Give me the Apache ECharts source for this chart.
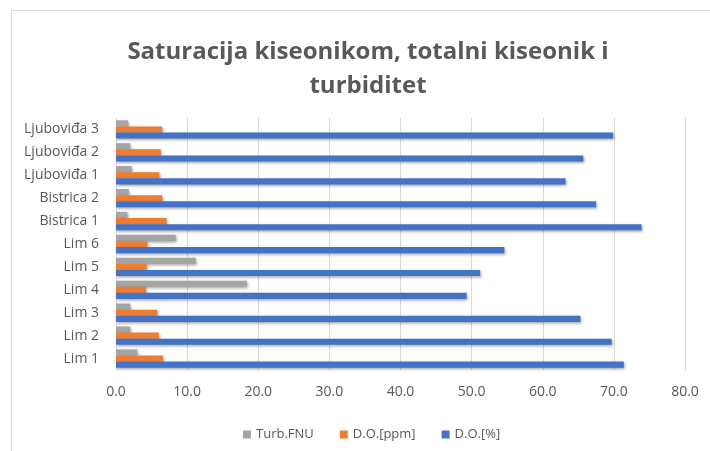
<!DOCTYPE html>
<html>
<head>
<meta charset="utf-8">
<script src="https://cdn.jsdelivr.net/npm/echarts@6/dist/echarts.min.js"></script>
<style>
  html, body { margin: 0; padding: 0; background: #fff; }
  #chart { width: 710px; height: 451px; }
</style>
</head>
<body>
<div id="chart"></div>
<script>
// Sampling sites, bottom to top on the category axis
const sites = ['Lim 1', 'Lim 2', 'Lim 3', 'Lim 4', 'Lim 5', 'Lim 6',
  'Bistrica 1', 'Bistrica 2', 'Ljuboviđa 1', 'Ljuboviđa 2', 'Ljuboviđa 3'];

// Dissolved oxygen saturation [%]
const doPercent = [71.4, 69.7, 65.3, 49.3, 51.2, 54.6, 73.9, 67.5, 63.2, 65.7, 69.9];
// Dissolved oxygen [ppm]
const doPpm = [6.6, 6.0, 5.8, 4.2, 4.3, 4.4, 7.1, 6.5, 6.1, 6.3, 6.5];
// Turbidity [FNU]
const turbFnu = [3.0, 2.0, 2.0, 18.4, 11.2, 8.4, 1.6, 1.8, 2.2, 2.0, 1.7];

const xTicks = { min: 0, max: 80, interval: 10 };

const textColor = '#595959';
const fontFamily = '"Open Sans", Lato, sans-serif';

const barShadow = {
  shadowColor: 'rgba(0,0,0,0.35)',
  shadowBlur: 3,
  shadowOffsetX: 1,
  shadowOffsetY: 1.5
};

const chart = echarts.init(document.getElementById('chart'), null, { renderer: 'canvas' });

chart.setOption({
  animation: false,
  backgroundColor: '#ffffff',
  textStyle: { fontFamily: fontFamily },
  graphic: [{
    type: 'rect',
    shape: { x: 11.5, y: 10.5, width: 720, height: 470 },
    style: { fill: 'none', stroke: '#d9d9d9', lineWidth: 1 },
    silent: true,
    z: -10
  }],
  title: {
    text: 'Saturacija kiseonikom, totalni kiseonik i\nturbiditet',
    left: 363,
    top: 30,
    textAlign: 'center',
    textStyle: {
      color: textColor,
      fontSize: 24,
      fontWeight: 'bold',
      fontFamily: fontFamily,
      lineHeight: 34
    }
  },
  legend: {
    data: ['Turb.FNU', 'D.O.[ppm]', 'D.O.[%]'],
    left: 238,
    top: 423,
    itemWidth: 8,
    itemHeight: 8,
    itemGap: 26,
    icon: 'rect',
    textStyle: { color: textColor, fontSize: 13, fontFamily: fontFamily }
  },
  grid: {
    left: 116,
    right: 25,
    top: 118,
    bottom: 81,
    containLabel: false
  },
  xAxis: {
    type: 'value',
    min: xTicks.min,
    max: xTicks.max,
    interval: xTicks.interval,
    axisLine: { show: false },
    axisTick: { show: false },
    splitLine: { lineStyle: { color: '#d9d9d9', width: 1 } },
    axisLabel: {
      color: textColor,
      fontSize: 14,
      margin: 15,
      formatter: v => v.toFixed(1)
    }
  },
  yAxis: {
    type: 'category',
    data: sites,
    axisLine: { show: false },
    axisTick: { show: false },
    axisLabel: { color: textColor, fontSize: 14, margin: 17 }
  },
  series: [
    {
      name: 'Turb.FNU',
      type: 'bar',
      data: turbFnu,
      barGap: '0%',
      barCategoryGap: '20%',
      itemStyle: Object.assign({ color: '#A5A5A5' }, barShadow)
    },
    {
      name: 'D.O.[ppm]',
      type: 'bar',
      data: doPpm,
      itemStyle: Object.assign({ color: '#ED7D31' }, barShadow)
    },
    {
      name: 'D.O.[%]',
      type: 'bar',
      data: doPercent,
      itemStyle: Object.assign({ color: '#4472C4' }, barShadow)
    }
  ]
});
</script>
</body>
</html>
